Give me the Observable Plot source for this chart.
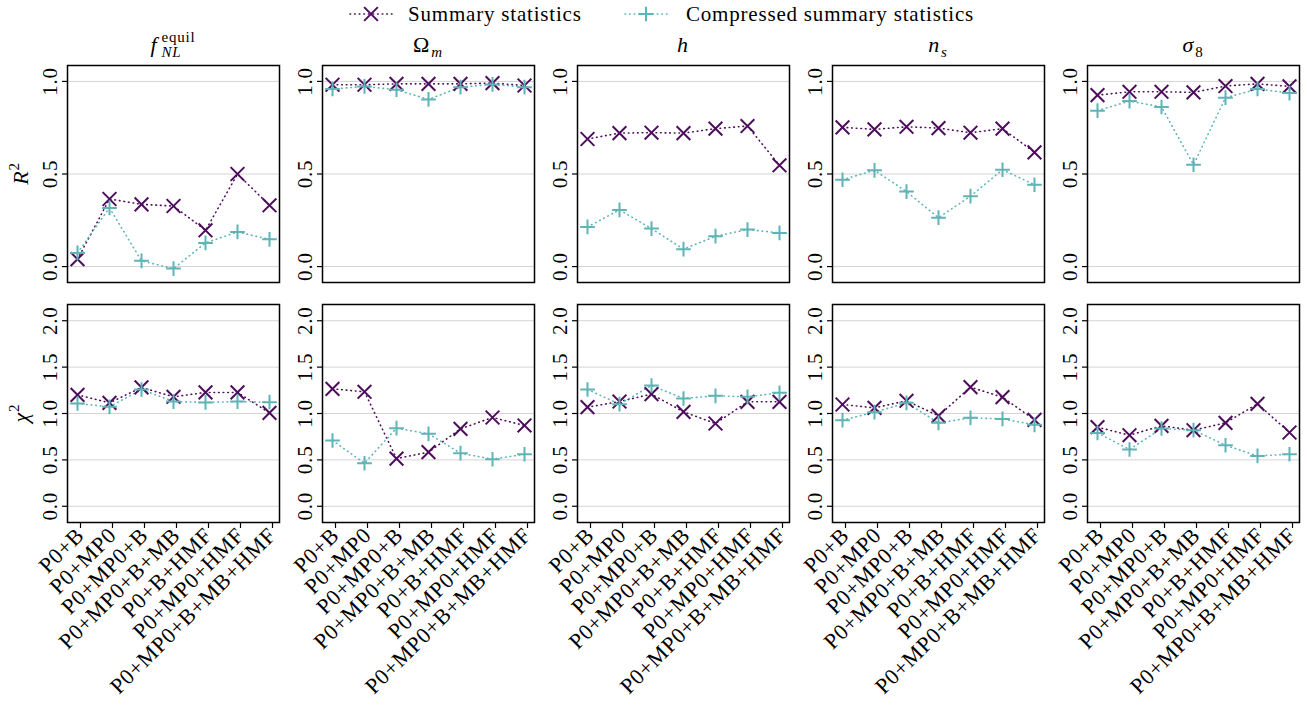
<!DOCTYPE html>
<html><head><meta charset="utf-8">
<script src="https://cdn.jsdelivr.net/npm/d3@7"></script>
<script src="https://cdn.jsdelivr.net/npm/@observablehq/plot@0.6"></script>
<style>
body{margin:0;background:#fff;}
#root{position:relative;width:1307px;height:713px;overflow:hidden;}
#root > div, #root > svg{position:absolute;left:0;}
</style></head><body><div id="root"></div>
<script>
// ---------- data ----------
const categories = ["P0+B","P0+MP0","P0+MP0+B","P0+MP0+B+MB","P0+B+HMF","P0+MP0+HMF","P0+MP0+B+MB+HMF"];
const paramKeys = ["fNL","Om","h","ns","s8"];
const seriesNames = ["Summary statistics","Compressed summary statistics"];
const yTicksR2 = [0, 0.5, 1.0];
const yTicksChi2 = [0, 0.5, 1.0, 1.5, 2.0];

// R^2 — summary statistics
const r2Summary_fNL = [0.040, 0.365, 0.336, 0.327, 0.196, 0.500, 0.331];
const r2Summary_Om  = [0.982, 0.982, 0.987, 0.987, 0.987, 0.991, 0.978];
const r2Summary_h   = [0.689, 0.721, 0.723, 0.721, 0.745, 0.759, 0.547];
const r2Summary_ns  = [0.752, 0.741, 0.755, 0.748, 0.723, 0.745, 0.617];
const r2Summary_s8  = [0.926, 0.944, 0.944, 0.941, 0.975, 0.987, 0.973];
// R^2 — compressed summary statistics
const r2Compressed_fNL = [0.074, 0.317, 0.031, -0.011, 0.128, 0.187, 0.147];
const r2Compressed_Om  = [0.959, 0.973, 0.955, 0.903, 0.969, 0.984, 0.969];
const r2Compressed_h   = [0.214, 0.306, 0.205, 0.094, 0.164, 0.200, 0.182];
const r2Compressed_ns  = [0.469, 0.520, 0.405, 0.264, 0.380, 0.523, 0.442];
const r2Compressed_s8  = [0.842, 0.894, 0.862, 0.550, 0.912, 0.959, 0.937];
// chi^2 — summary statistics
const chi2Summary_fNL = [1.201, 1.115, 1.281, 1.180, 1.227, 1.227, 1.007];
const chi2Summary_Om  = [1.266, 1.234, 0.514, 0.583, 0.835, 0.957, 0.871];
const chi2Summary_h   = [1.068, 1.129, 1.209, 1.018, 0.892, 1.126, 1.126];
const chi2Summary_ns  = [1.097, 1.061, 1.137, 0.975, 1.284, 1.176, 0.932];
const chi2Summary_s8  = [0.853, 0.766, 0.867, 0.820, 0.899, 1.104, 0.795];
// chi^2 — compressed summary statistics
const chi2Compressed_fNL = [1.108, 1.072, 1.259, 1.129, 1.119, 1.129, 1.122];
const chi2Compressed_Om  = [0.709, 0.464, 0.842, 0.781, 0.572, 0.507, 0.561];
const chi2Compressed_h   = [1.259, 1.101, 1.302, 1.162, 1.191, 1.180, 1.223];
const chi2Compressed_ns  = [0.928, 1.014, 1.115, 0.899, 0.953, 0.942, 0.878];
const chi2Compressed_s8  = [0.791, 0.612, 0.838, 0.820, 0.658, 0.543, 0.561];

// ---------- styling ----------
const W = 1307;
const colSummary = "#4d0d5c", colCompressed = "#5fb4b6";
const FONT = "'Liberation Serif', 'Times New Roman', serif";
const LS = "0.8px";
const DASH = "0.6,4";

function rows(series, param, values) {
  return values.map((v, i) => ({series, param, cat: categories[i], value: v}));
}
const r2Data = [
  ...rows(seriesNames[0], "fNL", r2Summary_fNL), ...rows(seriesNames[1], "fNL", r2Compressed_fNL),
  ...rows(seriesNames[0], "Om", r2Summary_Om),   ...rows(seriesNames[1], "Om", r2Compressed_Om),
  ...rows(seriesNames[0], "h", r2Summary_h),     ...rows(seriesNames[1], "h", r2Compressed_h),
  ...rows(seriesNames[0], "ns", r2Summary_ns),   ...rows(seriesNames[1], "ns", r2Compressed_ns),
  ...rows(seriesNames[0], "s8", r2Summary_s8),   ...rows(seriesNames[1], "s8", r2Compressed_s8)
];
const chi2Data = [
  ...rows(seriesNames[0], "fNL", chi2Summary_fNL), ...rows(seriesNames[1], "fNL", chi2Compressed_fNL),
  ...rows(seriesNames[0], "Om", chi2Summary_Om),   ...rows(seriesNames[1], "Om", chi2Compressed_Om),
  ...rows(seriesNames[0], "h", chi2Summary_h),     ...rows(seriesNames[1], "h", chi2Compressed_h),
  ...rows(seriesNames[0], "ns", chi2Summary_ns),   ...rows(seriesNames[1], "ns", chi2Compressed_ns),
  ...rows(seriesNames[0], "s8", chi2Summary_s8),   ...rows(seriesNames[1], "s8", chi2Compressed_s8)
];

function makeRow({data, yDomain, yTicks, showX, height, marginBottom}) {
  return Plot.plot({
    width: W, height,
    marginLeft: 67, marginRight: 7, marginTop: 10, marginBottom,
    style: {fontFamily: FONT, fontSize: "21px", letterSpacing: LS, background: "transparent", overflow: "visible", color: "#000"},
    fx: {domain: paramKeys, paddingInner: 0.168, paddingOuter: 0, axis: null, label: null},
    x: {type: "point", domain: categories, padding: 0.3, axis: null, label: null},
    y: {domain: yDomain, axis: null, label: null},
    color: {domain: seriesNames, range: [colSummary, colCompressed]},
    marks: [
      Plot.gridY(yTicks, {stroke: "#d4d4d4", strokeOpacity: 1, strokeWidth: 1}),
      Plot.line(data, {fx: "param", x: "cat", y: "value", z: "series", stroke: "series",
        strokeDasharray: DASH, strokeLinecap: "round", strokeWidth: 1.6}),
      Plot.dot(data.filter(d => d.series === seriesNames[0]), {fx: "param", x: "cat", y: "value",
        symbol: "times", r: 6.3, stroke: "series", strokeWidth: 2}),
      Plot.dot(data.filter(d => d.series === seriesNames[1]), {fx: "param", x: "cat", y: "value",
        symbol: "plus", r: 4.8, stroke: "series", strokeWidth: 2}),
      Plot.axisY(yTicks, {facetAnchor: null, tickFormat: d => d.toFixed(1), tickRotate: -90,
        tickSize: 5, tickPadding: 6, label: null, stroke: "#000", strokeWidth: 1.2}),
      showX ? Plot.axisX({facetAnchor: null, tickRotate: -45, tickSize: 6, tickPadding: 3,
        fontSize: 22, dx: 3, label: null, stroke: "#000", strokeWidth: 1.2}) : null,
      Plot.frame({stroke: "#000", strokeWidth: 1.5})
    ]
  });
}

const root = document.getElementById("root");
const row1 = makeRow({data: r2Data, yDomain: [-0.086, 1.086], yTicks: yTicksR2, showX: false, height: 237, marginBottom: 10});
const row2 = makeRow({data: chi2Data, yDomain: [-0.175, 2.175], yTicks: yTicksChi2, showX: true, height: 419, marginBottom: 191});
row1.style.position = "absolute"; row1.style.top = "55px"; row1.style.left = "0px";
row2.style.position = "absolute"; row2.style.top = "294px"; row2.style.left = "0px";
root.appendChild(row1);
root.appendChild(row2);

// ---------- overlay: legend, titles, row labels ----------
const svg = d3.select(root).append("svg")
  .attr("width", W).attr("height", 713)
  .style("position", "absolute").style("top", "0px").style("left", "0px")
  .style("font-family", FONT).style("letter-spacing", LS).style("overflow", "visible");

// legend
const legendItems = [
  {name: seriesNames[0], color: colSummary, symbol: d3.symbolTimes, size: Math.PI * 6.3 * 6.3, x0: 350, text: 408},
  {name: seriesNames[1], color: colCompressed, symbol: d3.symbolPlus, size: Math.PI * 4.8 * 4.8, x0: 625, text: 686}
];
for (const it of legendItems) {
  svg.append("line").attr("x1", it.x0).attr("x2", it.x0 + 42).attr("y1", 14).attr("y2", 14)
    .attr("stroke", it.color).attr("stroke-width", 1.6).attr("stroke-linecap", "round").attr("stroke-dasharray", DASH);
  svg.append("path").attr("d", d3.symbol(it.symbol, it.size)()).attr("transform", `translate(${it.x0 + 21},14)`)
    .attr("fill", "none").attr("stroke", it.color).attr("stroke-width", 2);
  svg.append("text").attr("x", it.text).attr("y", 21).attr("font-size", 21).attr("fill", "#000").text(it.name);
}

// titles
const titleSpecs = {
  fNL: {base: "f", baseItalic: true, sup: "equil", supItalic: false, sub: "NL", subItalic: true, gap: 4},
  Om:  {base: "Ω", baseItalic: false, sub: "m", subItalic: true, gap: 1},
  h:   {base: "h", baseItalic: true},
  ns:  {base: "n", baseItalic: true, sub: "s", subItalic: true, gap: 1},
  s8:  {base: "σ", baseItalic: true, sub: "8", subItalic: false, gap: 1}
};
const fx = row1.scale("fx");
for (const k of paramKeys) {
  const spec = titleSpecs[k];
  const cx = fx.apply(k) + fx.bandwidth / 2;
  const g = svg.append("g");
  const base = g.append("text").attr("x", 0).attr("y", 0).attr("font-size", 22)
    .attr("font-style", spec.baseItalic ? "italic" : "normal").text(spec.base);
  const bw = base.node().getComputedTextLength();
  if (spec.sup) g.append("text").attr("x", bw + spec.gap).attr("y", -10).attr("font-size", 15)
    .attr("font-style", spec.supItalic ? "italic" : "normal").text(spec.sup);
  if (spec.sub) g.append("text").attr("x", bw + spec.gap).attr("y", 5).attr("font-size", 15)
    .attr("font-style", spec.subItalic ? "italic" : "normal").text(spec.sub);
  const bb = g.node().getBBox();
  g.attr("transform", `translate(${cx - bb.width / 2},52)`);
}

// row labels
function rowLabel(base, cy) {
  const t = svg.append("text").attr("transform", `translate(28,${cy}) rotate(-90)`)
    .attr("text-anchor", "middle").attr("font-size", 22);
  t.append("tspan").attr("font-style", "italic").text(base);
  t.append("tspan").attr("font-size", 15).attr("dy", -9).text("2");
}
const y1 = row1.scale("y"), y2 = row2.scale("y");
rowLabel("R", 55 + y1.apply(0.5));
rowLabel("χ", 294 + y2.apply(1.0));
</script></body></html>
